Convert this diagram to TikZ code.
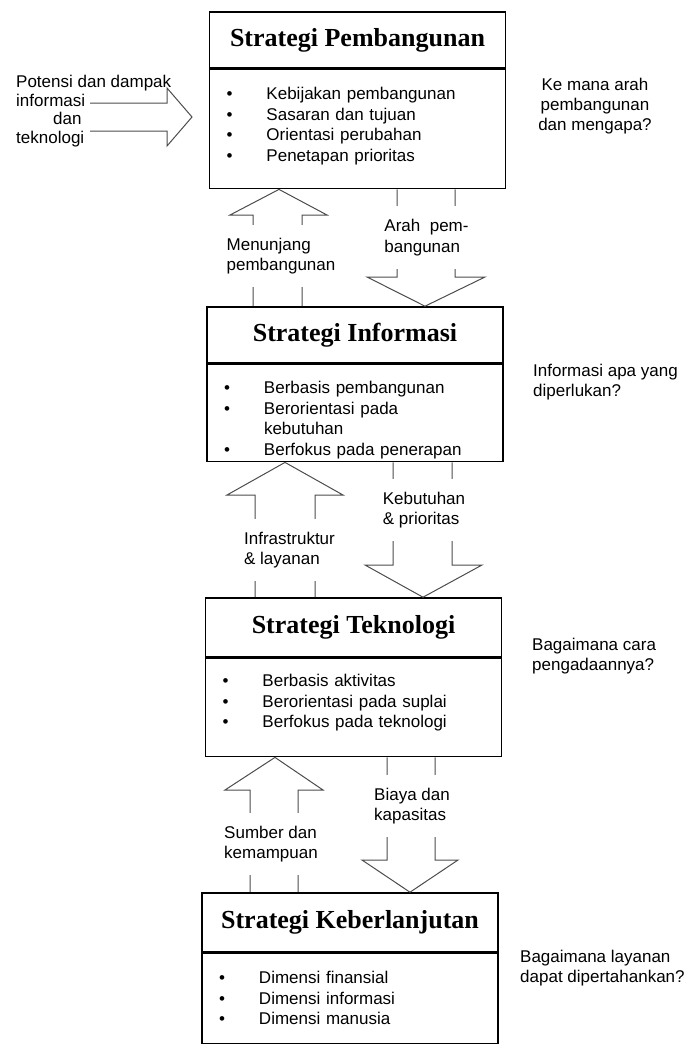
\documentclass[tikz,border=0pt]{standalone}
\usepackage{fontspec}
\setmainfont{Liberation Sans}
\newfontfamily\ttlfont{Liberation Serif}
\usetikzlibrary{positioning}

\newcommand{\butir}[1]{\makebox[40pt][l]{\textbullet}#1}

\tikzset{
    judul/.style={draw, line width=1.6pt, minimum width=296, minimum height=56,
        font=\ttlfont\bfseries\fontsize{26}{30}\selectfont},
    isi/.style={draw, line width=1.6pt, text width=262pt, inner xsep=17pt, inner ysep=0pt,
        align=left, font=\fontsize{17}{20.5}\selectfont},
    panah/.style={draw=black!70, line width=1pt, line join=miter},
    ket/.style={fill=white, inner xsep=3pt, inner ysep=13pt, align=left,
        font=\fontsize{17}{20.5}\selectfont},
    tanya/.style={inner sep=0pt, align=left, font=\fontsize{17}{20}\selectfont}
}

\begin{document}
\begin{tikzpicture}[x=1pt,y=-1pt]
    \useasboundingbox (0,0) rectangle (689,1047);
    % Draw the four strategy boxes
    \node[judul] (pemb) at (357.5,40) {Strategi Pembangunan};
    \node[isi, text height=30, text depth=89, below=0pt of pemb] (pembisi)
        {\butir{Kebijakan pembangunan}\\\butir{Sasaran dan tujuan}\\\butir{Orientasi perubahan}\\\butir{Penetapan prioritas}};
    \node[judul] (info) at (355,335) {Strategi Informasi};
    \node[isi, text height=29, text depth=68, below=0pt of info] (infoisi)
        {\butir{Berbasis pembangunan}\\\butir{Berorientasi pada}\\\hspace*{40pt}kebutuhan\\\butir{Berfokus pada penerapan}};
    \node[judul, minimum height=59] (tekn) at (353.5,627.5) {Strategi Teknologi};
    \node[isi, text height=28, text depth=70, below=0pt of tekn] (teknisi)
        {\butir{Berbasis aktivitas}\\\butir{Berorientasi pada suplai}\\\butir{Berfokus pada teknologi}};
    \node[judul, minimum height=59] (lanj) at (350,922.5) {Strategi Keberlanjutan};
    \node[isi, text height=30, text depth=60, below=0pt of lanj] (lanjisi)
        {\butir{Dimensi finansial}\\\butir{Dimensi informasi}\\\butir{Dimensi manusia}};

    % Input from the left
    \node[tanya, anchor=west, font=\fontsize{17}{18.7}\selectfont] (potensi) at (16,111)
        {Potensi dan dampak\\informasi\\\hspace*{37pt}dan\\teknologi};
    \draw[panah] (90,103) -- (167,103) -- (167,88) -- (192,117) -- (167,146) -- (167,131) -- (90,131);

    % Block arrows between the boxes
    \draw[panah] (253,0 |- info.north) -- (253,215) -- (230,215) -- (279,0 |- pembisi.south)
        -- (327,215) -- (302,215) -- (302,0 |- info.north);
    \draw[panah] (397,0 |- pembisi.south) -- (397,277) -- (367,277) -- (425,0 |- info.north)
        -- (485,277) -- (455,277) -- (455,0 |- pembisi.south);
    \draw[panah] (255,0 |- tekn.north) -- (255,495) -- (227,495) -- (285,0 |- infoisi.south)
        -- (343,495) -- (315,495) -- (315,0 |- tekn.north);
    \draw[panah] (393,0 |- infoisi.south) -- (393,565) -- (365,565) -- (423,0 |- tekn.north)
        -- (482,565) -- (452,565) -- (452,0 |- infoisi.south);
    \draw[panah] (250,0 |- lanj.north) -- (250,790) -- (225,790) -- (275,0 |- teknisi.south)
        -- (323,790) -- (298,790) -- (298,0 |- lanj.north);
    \draw[panah] (387,0 |- teknisi.south) -- (387,860) -- (362,860) -- (410,0 |- lanj.north)
        -- (458,860) -- (435,860) -- (435,0 |- teknisi.south);

    % Labels on the arrows
    \node[ket] (menunjang) at (281,256) {Menunjang\\pembangunan};
    \node[ket] (arah) at (426.5,237.5) {Arah\ \ pem-\\bangunan};
    \node[ket] (infra) at (289.5,550) {Infrastruktur\\\& layanan};
    \node[ket] (butuh) at (424,510) {Kebutuhan\\\& prioritas};
    \node[ket] (sumber) at (271,844) {Sumber dan\\kemampuan};
    \node[ket] (biaya) at (412,806) {Biaya dan\\kapasitas};

    % Questions on the right
    \node[tanya, align=center] (kemana) at (595,106) {Ke mana arah\\pembangunan\\dan mengapa?};
    \node[tanya, anchor=west] (apa) at (533,382) {Informasi apa yang\\diperlukan?};
    \node[tanya, anchor=west] (cara) at (532,656) {Bagaimana cara\\pengadaannya?};
    \node[tanya, anchor=west] (bertahan) at (520,968) {Bagaimana layanan\\dapat dipertahankan?};
\end{tikzpicture}
\end{document}
